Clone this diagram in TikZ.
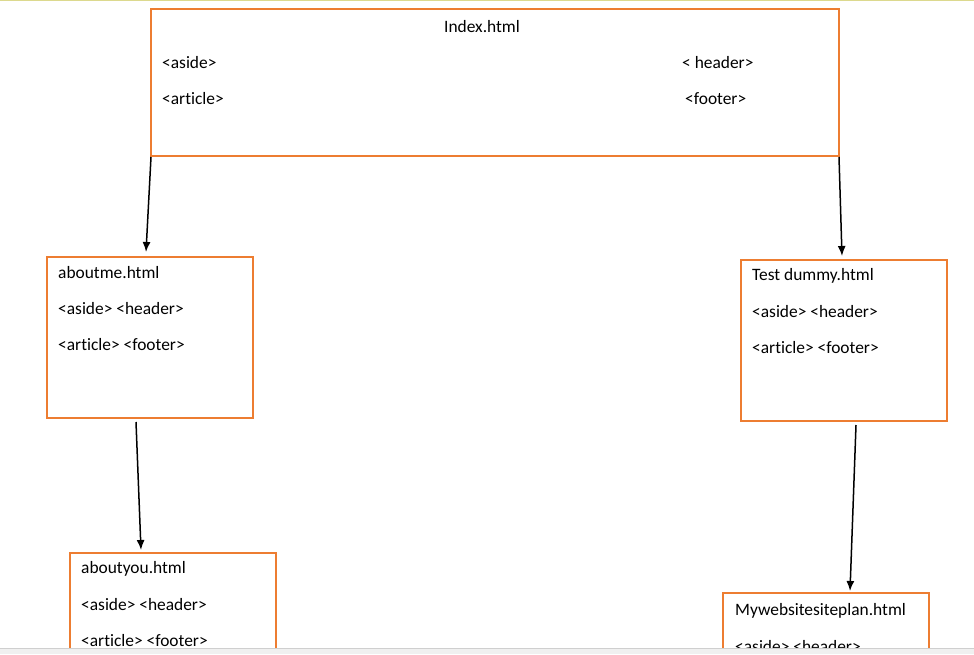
\documentclass[tikz,border=0pt]{standalone}
\usepackage{fontspec}
\setmainfont{Carlito}[Ligatures={NoCommon}]
\usetikzlibrary{arrows.meta}
\definecolor{boxorange}{HTML}{ED7D31}
\definecolor{topline}{HTML}{DCD98E}
\definecolor{barfill}{HTML}{F0F0F0}
\definecolor{barline}{HTML}{CFCFCF}
\tikzset{
  pagebox/.style={draw=boxorange, line width=2pt, minimum width=206pt, minimum height=161pt, anchor=north west, inner sep=0pt},
  lbl/.style={anchor=west, inner sep=0pt, font=\fontsize{17.4}{19}\selectfont},
  arr/.style={line width=1.5pt, -{Latex[length=10pt,width=8pt]}}
}
\begin{document}
\begin{tikzpicture}[x=1pt,y=-1pt]
\useasboundingbox (0,0) rectangle (974,654);
\fill[white] (0,0) rectangle (974,654);
\begin{scope}
\clip (0,0) rectangle (974,648);
% boxes
\node[pagebox, minimum width=688pt, minimum height=147pt] (idx) at (150,8) {};
\node[pagebox] (am) at (46,256) {};
\node[pagebox] (td) at (740,259) {};
\node[pagebox] (ay) at (69,552) {};
\node[pagebox] (sp) at (722,592) {};
% texts
\node[lbl, anchor=center] (t0) at (482,27) {Index.html};
\node[lbl] (t1) at (162,63) {<aside>};
\node[lbl] (t2) at (162,99) {<article>};
\node[lbl] (t3) at (682,63) {< header>};
\node[lbl] (t4) at (685,99) {<footer>};
\node[lbl] (a1) at (58,273) {aboutme.html};
\node[lbl] (a2) at (58,309) {<aside> <header>};
\node[lbl] (a3) at (58,345) {<article> <footer>};
\node[lbl] (d1) at (752,276) {Test dummy.html};
\node[lbl] (d2) at (752,312) {<aside> <header>};
\node[lbl] (d3) at (752,348) {<article> <footer>};
\node[lbl] (y1) at (81,569) {aboutyou.html};
\node[lbl] (y2) at (81,605) {<aside> <header>};
\node[lbl] (y3) at (81,641) {<article> <footer>};
\node[lbl] (s1) at (735,611) {Mywebsitesiteplan.html};
\node[lbl] (s2) at (735,647) {<aside> <header>};
% connectors
\draw[arr] ([xshift=1pt]idx.south west) -- ([xshift=100pt,yshift=4pt]am.north west);
\draw[arr] ([xshift=-1pt]idx.south east) -- ([xshift=102pt,yshift=3pt]td.north west);
\draw[arr] ([xshift=90pt,yshift=-3pt]am.south west) -- ([xshift=72pt,yshift=2pt]ay.north west);
\draw[arr] ([xshift=116pt,yshift=-3pt]td.south west) -- ([xshift=128pt,yshift=1pt]sp.north west);
\end{scope}
% window chrome
\fill[barfill] (0,648) rectangle (974,654);
\draw[barline, line width=1pt] (0,648) -- (974,648);
\draw[topline, line width=1.5pt] (0,0.5) -- (974,0.5);
\end{tikzpicture}
\end{document}
